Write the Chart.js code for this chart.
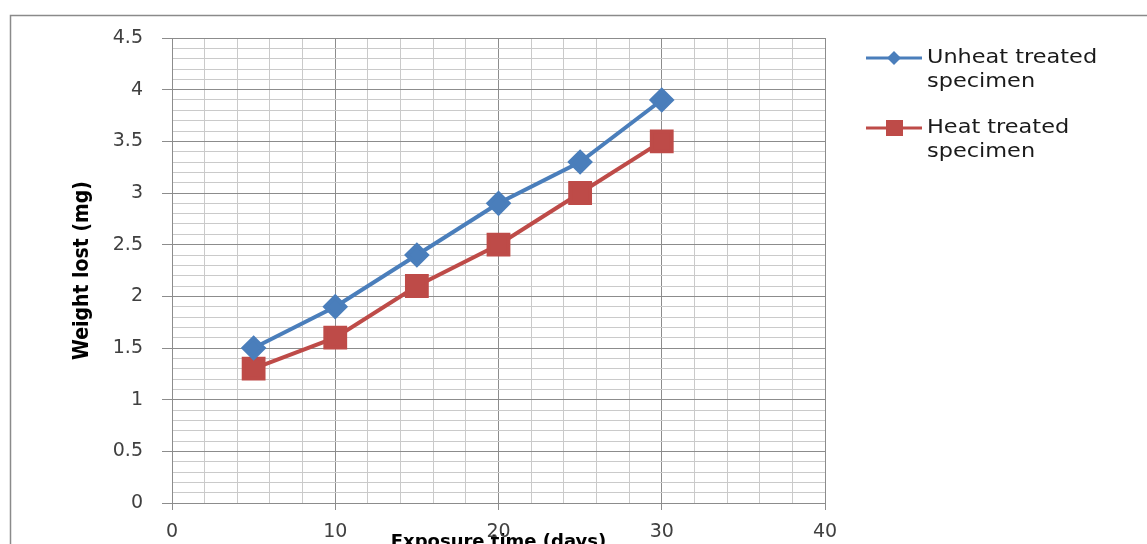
<!DOCTYPE html>
<html>
<head>
<meta charset="utf-8">
<script src="https://cdn.jsdelivr.net/npm/chart.js@4.4.0/dist/chart.umd.min.js"></script>
<style>
  html, body { margin: 0; padding: 0; background: #fff; }
  #wrap { width: 1147px; height: 544px; }
</style>
</head>
<body>
<div id="wrap"><canvas id="weightChart"></canvas></div>
<script>
// data
var exposureDays = [5, 10, 15, 20, 25, 30];
var unheatWeight = [1.5, 1.9, 2.4, 2.9, 3.3, 3.9];
var heatWeight = [1.3, 1.6, 2.1, 2.5, 3.0, 3.5];
var xTickLabels = [0, 10, 20, 30, 40];
var yTickLabels = [0, 0.5, 1, 1.5, 2, 2.5, 3, 3.5, 4, 4.5];

var MAJOR = '#8c8c8c';
var MINOR = '#cacaca';

function points(xs, ys) {
  return xs.map(function (x, i) { return { x: x, y: ys[i] }; });
}
function isMajor(list, v) {
  return list.some(function (t) { return Math.abs(t - v) < 1e-6; });
}

/* white page + grey frame */
var framePlugin = {
  id: 'frame',
  beforeDraw: function (chart) {
    var c = chart.ctx;
    c.save();
    c.fillStyle = '#fff';
    c.fillRect(0, 0, chart.width, chart.height);
    c.strokeStyle = '#8a8a8a';
    c.lineWidth = 1.5;
    c.strokeRect(10.5, 15.5, 1200, 600);
    c.restore();
  }
};

/* legend on the right, two-line labels */
var sideLegend = {
  id: 'sideLegend',
  afterDraw: function (chart) {
    var c = chart.ctx;
    var rows = [58, 128];
    c.save();
    chart.data.datasets.forEach(function (ds, i) {
      var y = rows[i];
      c.strokeStyle = ds.borderColor;
      c.lineWidth = 3;
      c.beginPath();
      c.moveTo(866, y);
      c.lineTo(922, y);
      c.stroke();
      c.fillStyle = ds.backgroundColor;
      c.beginPath();
      if (ds.pointStyle === 'rectRot') {
        c.moveTo(894, y - 7);
        c.lineTo(901, y);
        c.lineTo(894, y + 7);
        c.lineTo(887, y);
        c.closePath();
        c.fill();
      } else {
        c.fillRect(886, y - 8, 17, 16);
      }
      c.fillStyle = '#1a1a1a';
      c.font = '19px "DejaVu Sans"';
      c.textBaseline = 'middle';
      c.textAlign = 'left';
      ds.label.forEach(function (line, k) {
        c.save();
        c.translate(927, y + k * 24);
        c.scale(1.18, 1); // the original text is drawn a bit wide
        c.fillText(line, 0, 0);
        c.restore();
      });
    });
    c.restore();
  }
};

var ctx = document.getElementById('weightChart');
var weightChart = new Chart(ctx, {
  type: 'scatter',
  data: {
    datasets: [{
      label: ['Unheat treated', 'specimen'],
      data: points(exposureDays, unheatWeight),
      showLine: true,
      borderColor: '#4a7ebb',
      backgroundColor: '#4a7ebb',
      borderWidth: 4,
      pointStyle: 'rectRot',
      pointRadius: 10,
      pointHoverRadius: 10
    }, {
      label: ['Heat treated', 'specimen'],
      data: points(exposureDays, heatWeight),
      showLine: true,
      borderColor: '#be4b48',
      backgroundColor: '#be4b48',
      borderWidth: 4,
      pointStyle: 'rect',
      pointRadius: 14,
      pointHoverRadius: 14
    }]
  },
  options: {
    responsive: true,
    maintainAspectRatio: false,
    animation: false,
    layout: { padding: { left: 0, top: 38, right: 322, bottom: 0 } },
    plugins: {
      legend: { display: false },
      tooltip: { enabled: false }
    },
    scales: {
      x: {
        type: 'linear',
        min: 0,
        max: 40,
        afterFit: function (s) { s.height = 41; },
        ticks: {
          stepSize: 2,
          autoSkip: false,
          maxRotation: 0,
          padding: 11,
          color: '#404040',
          font: { family: 'DejaVu Sans', size: 19 },
          callback: function (v) { return isMajor(xTickLabels, v) ? String(v) : ''; }
        },
        grid: {
          lineWidth: 1,
          tickLength: 7,
          color: function (c) { return isMajor(xTickLabels, c.tick.value) ? MAJOR : MINOR; },
          tickColor: function (c) { return isMajor(xTickLabels, c.tick.value) ? MAJOR : 'rgba(0,0,0,0)'; }
        },
        border: { color: MAJOR, width: 1 },
        title: {
          display: true,
          text: 'Exposure time (days)',
          color: '#000',
          font: { family: 'DejaVu Sans', size: 18, weight: 'bold' },
          padding: { top: 0, bottom: -9 }
        }
      },
      y: {
        min: 0,
        max: 4.5,
        afterFit: function (s) { s.width = 172; },
        ticks: {
          stepSize: 0.1,
          maxTicksLimit: 100,
          autoSkip: false,
          padding: 19,
          color: '#404040',
          font: { family: 'DejaVu Sans', size: 19 },
          callback: function (v) { return isMajor(yTickLabels, v) ? String(Math.round(v * 10) / 10) : ''; }
        },
        grid: {
          lineWidth: 1,
          tickLength: 10,
          color: function (c) { return isMajor(yTickLabels, c.tick.value) ? MAJOR : MINOR; },
          tickColor: function (c) { return isMajor(yTickLabels, c.tick.value) ? MAJOR : 'rgba(0,0,0,0)'; }
        },
        border: { color: MAJOR, width: 1 },
        title: {
          display: true,
          text: 'Weight lost (mg)',
          color: '#000',
          font: { family: '"DejaVu Sans Condensed", sans-serif', size: 21, weight: 'bold' },
          padding: { top: 70, bottom: 0 }
        }
      }
    }
  },
  plugins: [framePlugin, sideLegend]
});
</script>
</body>
</html>
